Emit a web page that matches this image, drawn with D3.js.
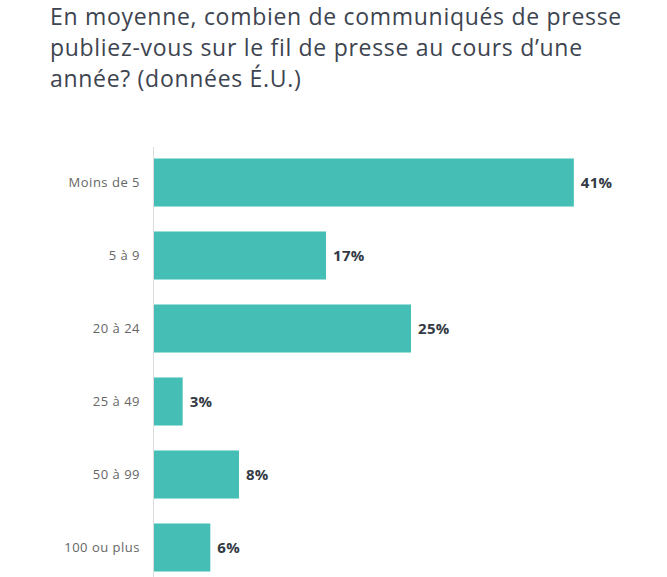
<!DOCTYPE html>
<html><head><meta charset="utf-8">
<script src="https://cdn.jsdelivr.net/npm/d3@7"></script>
<style>body{margin:0;background:#fff;}svg{display:block;}</style>
</head><body>
<script>
const titleLines = ["En moyenne, combien de communiqués de presse", "publiez-vous sur le fil de presse au cours d\u2019une", "année? (données É.U.)"];
const categories = ["Moins de 5", "5 à 9", "20 à 24", "25 à 49", "50 à 99", "100 ou plus"];
const values = [41, 16.8, 25.1, 2.8, 8.3, 5.5];
const valueLabels = ["41%", "17%", "25%", "3%", "8%", "6%"];

const W = 667, H = 577;
const svg = d3.select("body").append("svg").attr("width", W).attr("height", H);

const title = svg.append("text").attr("font-family", "'Open Sans', sans-serif").attr("font-size", 23)
  .attr("letter-spacing", 0.7).attr("fill", "#3d4450");
titleLines.forEach((t, i) => title.append("tspan").attr("x", 50).attr("y", 25 + i * 31).text(t));

const x = d3.scaleLinear().domain([0, 45]).range([154, 154 + 45 * 10.24]);
const y = d3.scaleBand().domain(categories).range([146, 584]).paddingInner(0.342).paddingOuter(0.171);

svg.append("line").attr("x1", 153.5).attr("x2", 153.5).attr("y1", 147).attr("y2", H).attr("stroke", "#dcdcdc").attr("stroke-width", 1);

svg.selectAll("rect.bar").data(categories).enter().append("rect").attr("class", "bar")
  .attr("x", x(0)).attr("y", d => y(d)).attr("width", (d, i) => x(values[i]) - x(0)).attr("height", y.bandwidth())
  .attr("fill", "#45bfb6");

svg.selectAll("text.cat").data(categories).enter().append("text").attr("class", "cat")
  .attr("x", 140).attr("y", d => y(d) + y.bandwidth() / 2).attr("dy", "0.35em").attr("text-anchor", "end")
  .attr("font-family", "'Open Sans', sans-serif").attr("font-size", 13).attr("letter-spacing", 0.5)
  .attr("fill", "#666").text(d => d);

svg.selectAll("text.val").data(categories).enter().append("text").attr("class", "val")
  .attr("x", (d, i) => x(values[i]) + 7).attr("y", d => y(d) + y.bandwidth() / 2).attr("dy", "0.35em")
  .attr("font-family", "'Open Sans', sans-serif").attr("font-weight", "bold").attr("font-size", 15)
  .attr("letter-spacing", 0.3).attr("fill", "#333a44")
  .text((d, i) => valueLabels[i]);
</script>
</body></html>
